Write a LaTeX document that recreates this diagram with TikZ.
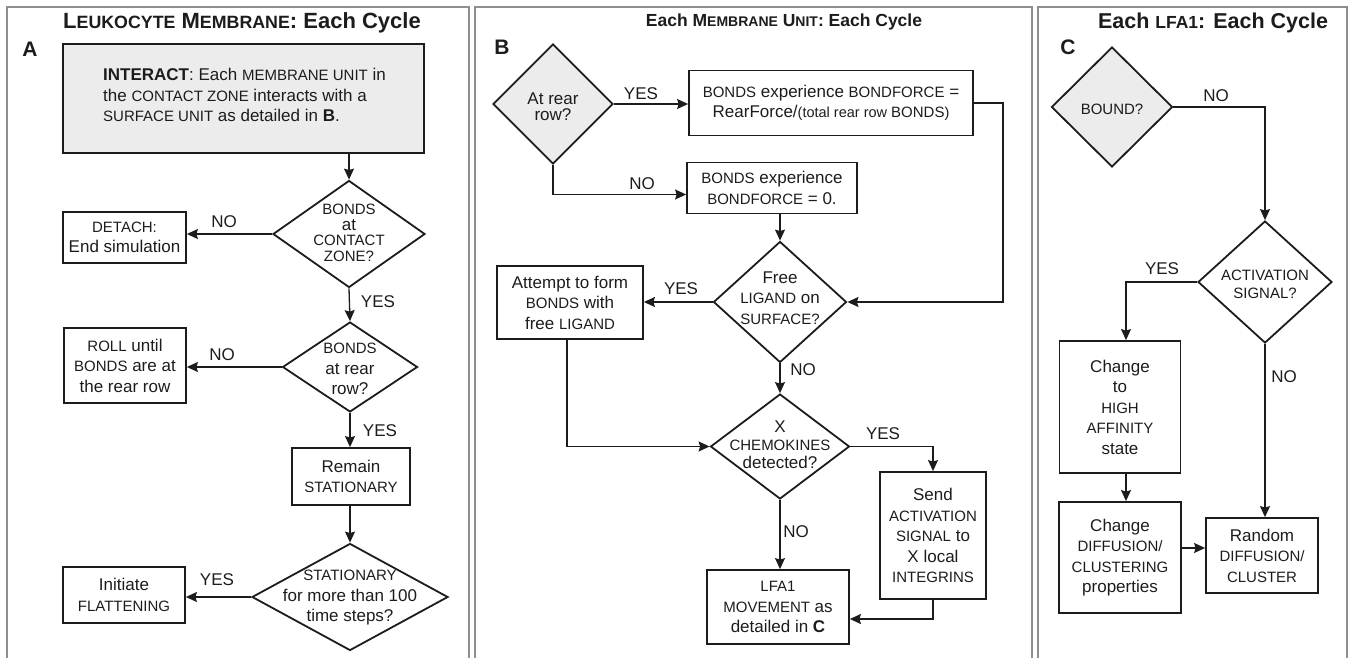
\documentclass[tikz,border=0pt]{standalone}
\usepackage{fontspec}
\setmainfont{Liberation Sans}
\usetikzlibrary{shapes.geometric,arrows.meta}
\definecolor{panel}{RGB}{140,145,140}
\definecolor{ink}{RGB}{28,28,28}
\definecolor{shade}{RGB}{236,236,236}
\newcommand\SC[1]{{\fontsize{15}{20.5}\selectfont #1}}
\newcommand\TSCA[1]{{\fontsize{17.8}{20}\selectfont\bfseries #1}}
\newcommand\TSCB[1]{{\fontsize{14}{20}\selectfont\bfseries #1}}
\newcommand\TSCC[1]{{\fontsize{17.5}{20}\selectfont\bfseries #1}}
\tikzset{
 box/.style={draw=ink, line width=1.8pt, inner sep=0pt, rectangle, align=center, font=\fontsize{17}{20.5}\selectfont, text=ink},
 dia/.style={draw=ink, line width=1.8pt, diamond, inner sep=0pt},
 txt/.style={align=center, font=\fontsize{17}{20.5}\selectfont, text=ink, inner sep=0pt},
 lbl/.style={font=\fontsize{17}{20}\selectfont, text=ink, inner sep=0pt},
 conn/.style={draw=ink, line width=1.3pt},
 arr/.style={conn, -{Stealth[length=11pt,width=10pt,inset=1.5pt]}},
 ttl/.style={font=\fontsize{21}{24}\selectfont\bfseries, text=ink, inner sep=0pt},
 panelline/.style={draw=panel, line width=2.4pt},
}
\begin{document}
\begin{tikzpicture}[x=1pt,y=-1pt]
\useasboundingbox (0,0) rectangle (1349,658);
% panels
\draw[panelline] (7,670) -- (7,7) -- (469,7) -- (469,670);
\draw[panelline] (475,670) -- (475,7) -- (1032,7) -- (1032,670);
\draw[panelline] (1038,670) -- (1038,7) -- (1347,7) -- (1347,670);
% titles
\node[ttl, font=\fontsize{22}{24}\selectfont\bfseries] (tA) at (242,23) {L\TSCA{EUKOCYTE} M\TSCA{EMBRANE}: Each Cycle};
\node[ttl, font=\fontsize{17.5}{24}\selectfont\bfseries] (tB) at (784,22) {Each M\TSCB{EMBRANE} U\TSCB{NIT}: Each Cycle};
\node[ttl, font=\fontsize{21.5}{24}\selectfont\bfseries] (tC) at (1213,23) {Each \TSCC{LFA1}: Each Cycle};
\node[ttl] (lA) at (30,49) {A};
\node[ttl] (lB) at (502,47) {B};
\node[ttl] (lC) at (1068,47) {C};

% ===== Panel A =====
\node[box, fill=shade, minimum width=361pt, minimum height=109pt] (int) at (243.5,98.5) {};
\node[txt, align=left, anchor=west] (intt) at (103,95) {\textbf{INTERACT}: Each \SC{MEMBRANE UNIT} in\\the \SC{CONTACT ZONE} interacts with a\\\SC{SURFACE UNIT} as detailed in \textbf{B}.};
\node[dia, minimum width=152pt, minimum height=107pt] (d1) at (349,234) {};
\node[txt, font=\fontsize{17}{15.5}\selectfont] (d1t) at (349,233) {\SC{BONDS}\\at\\\SC{CONTACT}\\\SC{ZONE?}};
\node[box, minimum width=123pt, minimum height=51pt] (det) at (124.5,237.5) {\SC{DETACH:}\\End simulation};
\node[dia, minimum width=135pt, minimum height=90pt] (d2) at (350,367) {};
\node[txt] (d2t) at (350,369) {\SC{BONDS}\\at rear\\row?};
\node[box, minimum width=122pt, minimum height=75pt] (roll) at (125,365.5) {\SC{ROLL} until\\\SC{BONDS} are at\\the rear row};
\node[box, minimum width=118pt, minimum height=57pt] (rem) at (351,476.5) {Remain\\\SC{STATIONARY}};
\node[dia, minimum width=196pt, minimum height=107pt] (d3) at (350,597) {};
\node[txt] (d3t) at (350,598) {\SC{STATIONARY}\\for more than 100\\time steps?};
\node[box, minimum width=122pt, minimum height=56pt] (init) at (124,595) {Initiate\\\SC{FLATTENING}};

\draw[arr] (int.south -| d1.north) -- (d1.north);
\draw[arr] (d1.west) -- (d1.west -| det.east);
\draw[arr] (d1.south) -- (d2.north);
\draw[arr] (d2.west) -- (d2.west -| roll.east);
\draw[arr] (d2.south) -- (d2.south |- rem.north);
\draw[arr] (rem.south -| d3.north) -- (d3.north);
\draw[arr] (d3.west) -- (d3.west -| init.east);
\node[lbl] (nA1) at (224,222) {NO};
\node[lbl] (yA1) at (378,302) {YES};
\node[lbl] (nA2) at (222,355) {NO};
\node[lbl] (yA2) at (380,431) {YES};
\node[lbl] (yA3) at (217,580) {YES};

% ===== Panel B =====
\node[dia, fill=shade, minimum width=120pt, minimum height=120pt] (dr) at (553,104) {};
\node[txt, font=\fontsize{17}{16}\selectfont] (drt) at (553,107) {At rear\\row?};
\node[box, minimum width=284pt, minimum height=65pt] (bf1) at (831,103) {\SC{BONDS} experience \SC{BONDFORCE} =\\RearForce/{\fontsize{14.5}{20}\selectfont(total rear row \SC{BONDS})}};
\node[box, minimum width=170pt, minimum height=51pt] (bf0) at (772,188) {\SC{BONDS} experience\\\SC{BONDFORCE} = 0.};
\node[dia, minimum width=133pt, minimum height=121pt] (df) at (780,302) {};
\node[txt] (dft) at (780,298) {Free\\\SC{LIGAND} on\\\SC{SURFACE?}};
\node[box, minimum width=146pt, minimum height=73pt] (att) at (570,302.5) {Attempt to form\\\SC{BONDS} with\\free \SC{LIGAND}};
\node[dia, minimum width=139pt, minimum height=105pt] (dx) at (780,446.5) {};
\node[txt, font=\fontsize{17}{18}\selectfont] (dxt) at (780,445) {X\\\SC{CHEMOKINES}\\detected?};
\node[box, minimum width=106pt, minimum height=127pt] (send) at (933,535.5) {Send\\\SC{ACTIVATION}\\\SC{SIGNAL} to\\X local\\\SC{INTEGRINS}};
\node[box, minimum width=142pt, minimum height=74pt] (lfa) at (778,607) {\SC{LFA1}\\\SC{MOVEMENT} as\\detailed in \textbf{C}};

\coordinate (bf1r) at ([xshift=29pt]bf1.east);
\coordinate (bf0l) at ([yshift=-6.5pt]bf0.west);
\coordinate (lfar) at ([yshift=-12pt]lfa.east);
\draw[arr] (dr.east) -- (dr.east -| bf1.west);
\draw[arr] (dr.south) |- (bf0l);
\draw[arr] (bf1.east) -- (bf1r) |- (df.east);
\draw[arr] (bf0.south -| df.north) -- (df.north);
\draw[arr] (df.west) -- (df.west -| att.east);
\draw[arr] ([xshift=-3pt]att.south) |- (dx.west);
\draw[arr] (df.south) -- (dx.north);
\draw[arr] (dx.east) -| (send.north);
\draw[arr] (send.south) |- (lfar);
\draw[arr] (dx.south) -- (dx.south |- lfa.north);
\node[lbl] (yB1) at (641,94) {YES};
\node[lbl] (nB1) at (642,184) {NO};
\node[lbl] (yB2) at (681,289) {YES};
\node[lbl] (nB2) at (803,370) {NO};
\node[lbl] (yB3) at (883,434) {YES};
\node[lbl] (nB3) at (796,532) {NO};

% ===== Panel C =====
\node[dia, fill=shade, minimum width=121pt, minimum height=120pt] (db) at (1112,107) {};
\node[txt] (dbt) at (1112,109) {\SC{BOUND?}};
\node[dia, minimum width=134pt, minimum height=122pt] (da) at (1265,282) {};
\node[txt, font=\fontsize{17}{18}\selectfont] (dat) at (1265,284) {\SC{ACTIVATION}\\\SC{SIGNAL?}};
\node[box, minimum width=121pt, minimum height=132pt] (ch1) at (1120,407) {Change\\to\\\SC{HIGH}\\\SC{AFFINITY}\\state};
\node[box, minimum width=122pt, minimum height=111pt] (ch2) at (1120,557.5) {Change\\\SC{DIFFUSION/}\\\SC{CLUSTERING}\\properties};
\node[box, minimum width=112pt, minimum height=75pt] (rnd) at (1262,555.5) {Random\\\SC{DIFFUSION/}\\\SC{CLUSTER}};

\coordinate (ch1t) at ([xshift=6pt]ch1.north);
\coordinate (ch1b) at ([xshift=6pt]ch1.south);
\coordinate (ch2r) at ([yshift=9.5pt]ch2.east);
\draw[arr] (db.east) -| (da.north);
\draw[arr] (da.west) -| (ch1t);
\draw[arr] (ch1b) -- (ch1b |- ch2.north);
\draw[arr] (ch2r) -- (ch2r -| rnd.west);
\draw[arr] (da.south) -- (da.south |- rnd.north);
\node[lbl] (nC1) at (1216,96) {NO};
\node[lbl] (yC1) at (1162,269) {YES};
\node[lbl] (nC2) at (1284,377) {NO};
\end{tikzpicture}
\end{document}
